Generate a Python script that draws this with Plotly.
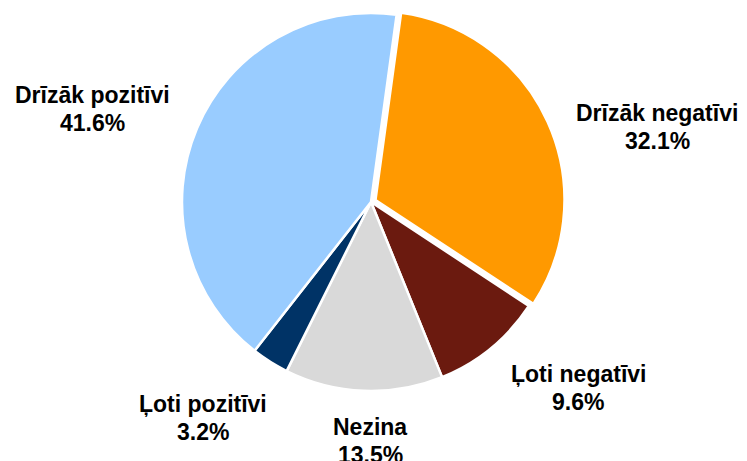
import plotly.graph_objects as go

labels = ["Drīzāk negatīvi", "Ļoti negatīvi", "Nezina", "Ļoti pozitīvi", "Drīzāk pozitīvi"]
values = [32.1, 9.6, 13.5, 3.2, 41.6]
colors = ["#FF9900", "#6B1A0F", "#D9D9D9", "#003366", "#99CCFF"]
pulls = [0.026, 0, 0, 0, 0]

# label placement (screen pixel centres of first line)
label_pos = [(657, 113), (578, 374), (370, 427), (203, 404), (92, 95)]

W, H = 747, 461
M = 8          # page body margin around the plot div
FS = 23
LINE = 28
cx, cy, r = 371 - M, 202 - M, 189
half = r * (1 + max(pulls))

fig = go.Figure(go.Pie(
    labels=labels,
    values=values,
    sort=False,
    direction="clockwise",
    rotation=7.8,
    pull=pulls,
    marker=dict(colors=colors, line=dict(color="white", width=2.5)),
    textinfo="none",
    hoverinfo="label+percent",
    domain=dict(x=[max(0, (cx - half) / W), min(1, (cx + half) / W)],
                y=[max(0, 1 - (cy + half) / H), min(1, 1 - (cy - half) / H)]),
))

font = dict(family="Liberation Sans, Arial, sans-serif", size=FS, color="black")
ann = []
for lab, val, (px, py) in zip(labels, values, label_pos):
    ann.append(dict(x=(px - M) / W, y=1 - (py - M) / H, xref="paper", yref="paper",
                    text=f"<b>{lab}</b>", showarrow=False, font=font,
                    xanchor="center", yanchor="middle"))
    ann.append(dict(x=(px - M) / W, y=1 - (py + LINE - M) / H, xref="paper", yref="paper",
                    text=f"<b>{val:.1f}%</b>", showarrow=False, font=font,
                    xanchor="center", yanchor="middle"))

fig.update_layout(
    width=W, height=H,
    margin=dict(l=0, r=0, t=0, b=0),
    paper_bgcolor="white", plot_bgcolor="white",
    showlegend=False,
    annotations=ann,
)

fig.write_html("out.html")
